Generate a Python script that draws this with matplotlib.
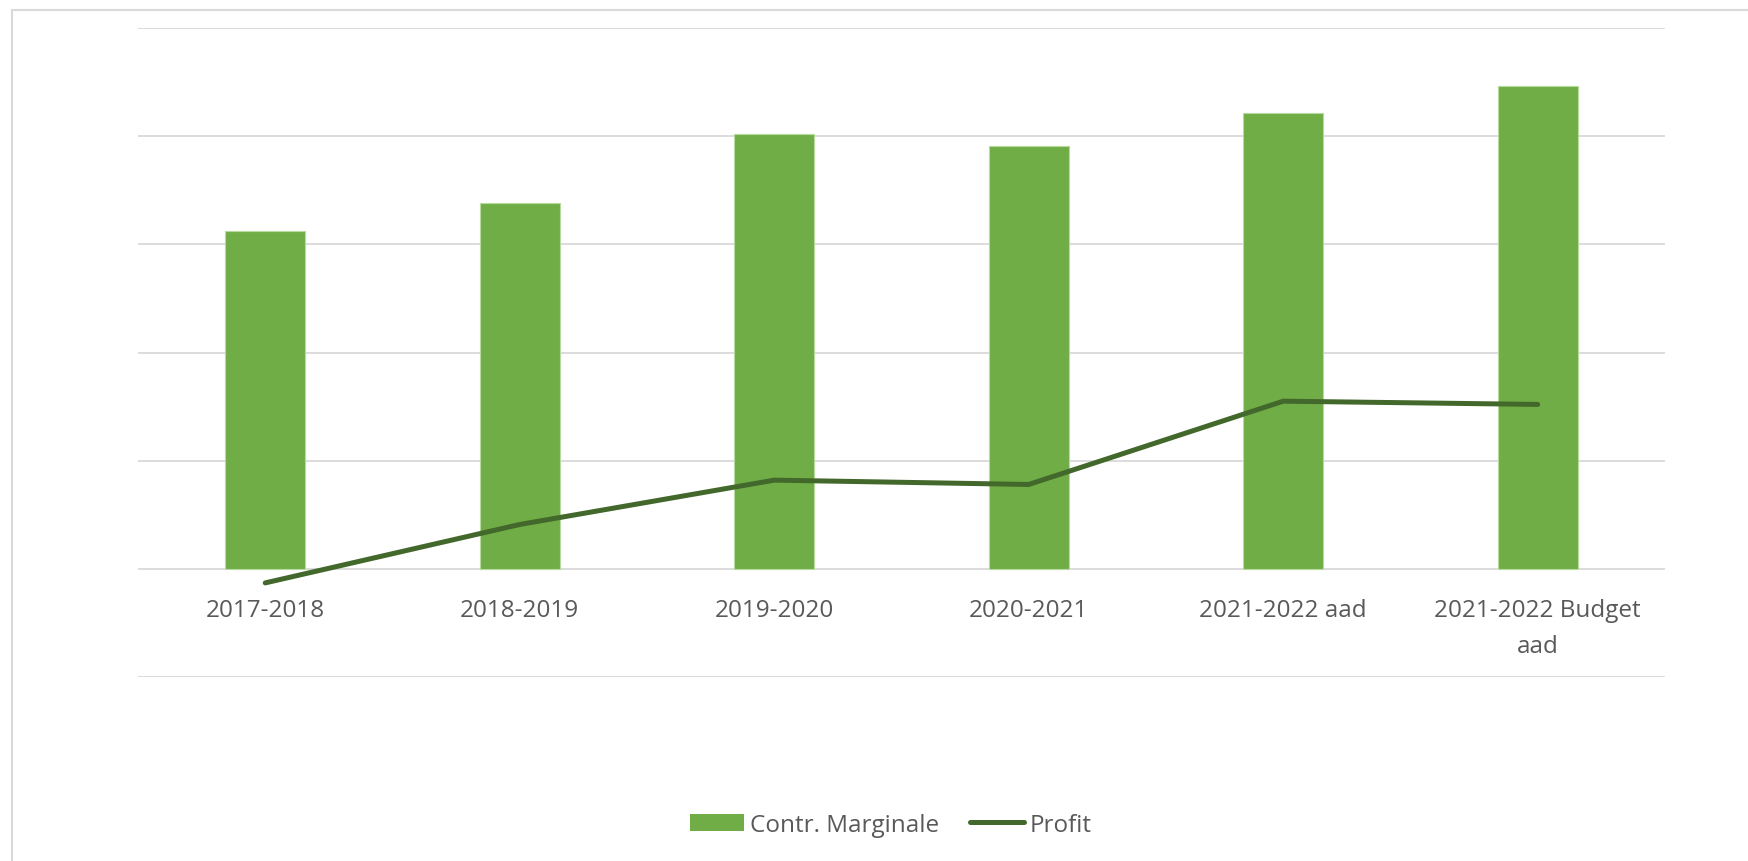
import matplotlib
matplotlib.use('Agg')
import matplotlib.pyplot as plt
from matplotlib.lines import Line2D
from matplotlib.patches import Patch

categories = ['2017-2018', '2018-2019', '2019-2020', '2020-2021',
              '2021-2022 aad', '2021-2022 Budget\naad']
contr_marginale = [3.12, 3.38, 4.02, 3.91, 4.21, 4.46]
profit = [-0.13, 0.41, 0.82, 0.78, 1.55, 1.52]

BAR_COLOR = '#70AD47'
LINE_COLOR = '#43682B'
GRID_COLOR = '#D9D9D9'
TEXT_COLOR = '#595959'

plt.rcParams['font.family'] = ['Open Sans', 'DejaVu Sans']

W, H = 1749, 862
fig = plt.figure(figsize=(W / 100, H / 100), dpi=100)

# outer chart frame (top and left edges visible)
fig.add_artist(Line2D([11.7 / W, 1], [1 - 10.5 / H, 1 - 10.5 / H],
                      transform=fig.transFigure, color=GRID_COLOR, lw=1.5))
fig.add_artist(Line2D([11.7 / W, 11.7 / W], [0, 1 - 10.5 / H],
                      transform=fig.transFigure, color=GRID_COLOR, lw=1.5))

ax = fig.add_axes([138 / W, 1 - 678 / H, (1665 - 138) / W, (678 - 29) / H])

x = list(range(len(categories)))
ax.bar(x, contr_marginale, width=0.314, color=BAR_COLOR,
       edgecolor='#B7DA9F', linewidth=0.8, zorder=2)
ax.plot(x, profit, color=LINE_COLOR, lw=3.6, solid_capstyle='round',
        solid_joinstyle='round', zorder=3)

ax.set_xlim(-0.5, len(categories) - 0.5)
ax.set_ylim(-1, 5)
ax.set_yticks(range(-1, 6))
ax.yaxis.grid(True, color=GRID_COLOR, lw=1.3)
ax.set_axisbelow(True)
ax.tick_params(axis='y', left=False, labelleft=False)

ax.spines['bottom'].set_position(('data', 0))
for side in ['top', 'right', 'left', 'bottom']:
    ax.spines[side].set_visible(False)

ax.set_xticks(x)
ax.set_xticklabels(categories, fontsize=17.5, color=TEXT_COLOR, linespacing=1.65)
ax.tick_params(axis='x', length=0, pad=21)

handles = [Patch(facecolor=BAR_COLOR, label='Contr. Marginale'),
           Line2D([0], [0], color=LINE_COLOR, lw=3.6, solid_capstyle='round',
                  label='Profit')]
fig.legend(handles=handles, loc='center', bbox_to_anchor=(891 / W, 1 - 826 / H),
           ncol=2, frameon=False, fontsize=17.5, labelcolor=TEXT_COLOR,
           handlelength=2.2, handleheight=0.7, handletextpad=0.25,
           columnspacing=1.3)

fig.savefig('out.png', dpi=100, facecolor='white')
